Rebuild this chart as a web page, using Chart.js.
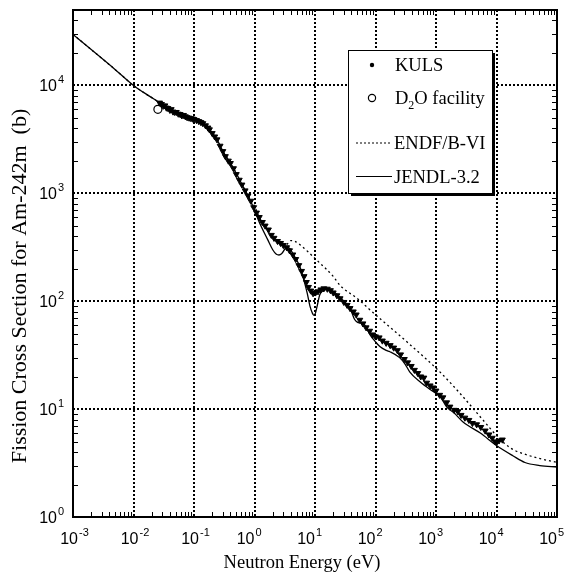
<!DOCTYPE html>
<html><head><meta charset="utf-8">
<script src="https://cdn.jsdelivr.net/npm/chart.js@4.4.0/dist/chart.umd.min.js"></script>
<style>html,body{margin:0;padding:0;background:#fff;}canvas{display:block;}</style>
</head><body>
<canvas id="c" width="573" height="575"></canvas>
<script>
// ---- data (energy in eV, cross section in barns) ----
const kulsE = [0.027,0.029,0.031,0.033,0.035,0.037,0.040,0.042,0.045,0.048,
  0.051,0.055,0.059,0.063,0.067,0.072,0.077,0.083,0.089,0.095,
  0.10,0.11,0.12,0.13,0.14,0.155,0.17,0.18,0.20,0.22,
  0.24,0.27,0.30,0.33,0.37,0.40,0.45,0.50,0.56,0.62,
  0.70,0.78,0.87,0.97,1.08,1.2,1.35,1.5,1.7,1.9,
  2.1,2.4,2.7,3.0,3.4,3.8,4.3,4.8,5.4,6.0,
  6.6,7.2,7.8,8.5,9.3,10.2,11.2,12.5,14,16,
  18,20,23,26,30,34,38,43,48,55,
  62,70,80,90,100,115,130,150,175,200,
  230,260,300,340,390,440,500,560,630,700,
  800,900,1000,1150,1300,1500,1700,2000,2300,2600,
  3000,3500,4000,4700,5500,6500,7500,8500,9500,10000,
  11000,12500];
const kulsXS = [6900,6700,6450,6500,6200,6150,5900,6000,5700,5650,
  5650,5450,5400,5250,5300,5150,5050,5000,4950,4900,
  4850,4750,4650,4550,4450,4250,4050,3900,3600,3350,
  3150,2750,2450,2200,2000,1900,1700,1500,1330,1200,
  1060,950,850,740,660,600,540,500,460,410,
  385,360,345,330,315,295,270,245,215,190,
  170,150,135,125,118,120,123,128,131,130,
  126,120,113,106,98,92,86,80,75,67,
  62,57,53,49,47,46,43,41,39,37,
  35,32,29,27,25,23,21.5,20,19.5,17.5,
  16.5,15.8,14.8,13.5,12.8,11.5,10.5,9.8,9.5,8.8,
  8.3,7.9,7.4,7.2,6.8,6.3,5.8,5.4,5.0,4.9,
  5.1,5.2];
const d2oE = [0.0253];
const d2oXS = [6000];
const jendlE = [0.001,0.002,0.005,0.01,0.018,0.0275,0.04,0.06,0.1,0.14,0.18,0.24,0.3,
  0.4,0.52,0.65,0.85,1.0,1.2,1.66,2.0,2.3,2.54,
  2.8,3.4,3.8,4.4,5.6,6.3,7.4,8.3,9.0,9.6,
  10.2,10.8,12,14,15.8,18,21.5,27,34,40,
  45,50,55,63,72,81,100,118,150,173,
  250,310,370,550,800,1000,1200,1500,2000,2800,
  5400,10000,18600,29500,52000,100000];
const jendlXS = [29700,21500,14000,10000,8000,6900,6000,5400,4850,4450,3900,3150,2450,
  1900,1470,1150,860,700,540,370,300,272,268,
  275,315,310,270,210,170,120,89,78,74,
  78,89,115,126,129,126,120,106,93,80,
  68,64,63,62,56,49,42,38,35,34,
  30,26,22,17.8,15.2,14,12.8,10.5,9.2,7.6,
  6.0,4.6,3.7,3.2,3.0,2.9];
const endfE = [0.001,0.002,0.005,0.01,0.018,0.0275,0.04,0.06,0.1,0.14,0.18,0.24,0.3,0.4,0.52,0.65,0.85,1.0,
  1.2,1.6,2.0,2.5,3.0,3.4,4.0,4.6,5.6,10.7,
  20,26,51,92,330,1170,2800,6000,10000,16600,
  35000,100000];
const endfXS = [29700,21500,14000,10000,8000,6900,6000,5400,4850,4450,3900,3150,2450,1900,1470,1150,880,760,
  600,470,390,345,330,335,365,360,335,240,
  170,140,105,78,42,22,13,7.9,5.7,4.4,
  3.7,3.2];
const xTickExps = [-3,-2,-1,0,1,2,3,4,5];
const yTickExps = [0,1,2,3,4];
const seriesNames = ['KULS','D2O facility','ENDF/B-VI','JENDL-3.2'];
const xTitle = 'Neutron Energy (eV)';
const yTitle = 'Fission Cross Section for Am-242m  (b)';

const pts = (xs, ys) => xs.map((v, i) => ({x: v, y: ys[i]}));

const SERIF = '"Liberation Serif", "Times New Roman", serif';
const SANS = '"Liberation Sans", Arial, sans-serif';

const decorate = {
  id: 'decorate',
  beforeDatasetsDraw(chart) {
    const {ctx, chartArea: a, scales: {x, y}} = chart;
    ctx.save();
    ctx.strokeStyle = '#000';
    ctx.lineWidth = 2;
    ctx.setLineDash([2, 2]);
    xTickExps.forEach(e => {
      const px = Math.round(x.getPixelForValue(Math.pow(10, e)));
      if (px <= a.left + 1 || px >= a.right - 1) return;
      ctx.beginPath(); ctx.moveTo(px, a.top); ctx.lineTo(px, a.bottom); ctx.stroke();
    });
    yTickExps.forEach(e => {
      const py = Math.round(y.getPixelForValue(Math.pow(10, e)));
      if (py <= a.top + 1 || py >= a.bottom - 1) return;
      ctx.beginPath(); ctx.moveTo(a.left, py); ctx.lineTo(a.right, py); ctx.stroke();
    });
    ctx.restore();
  },
  afterDraw(chart) {
    const {ctx, chartArea: a, scales: {x, y}} = chart;
    ctx.save();
    ctx.setLineDash([]);
    ctx.strokeStyle = '#000';
    // minor ticks inward
    ctx.lineWidth = 1;
    const tl = 5;
    for (let e = -3; e < 5; e++) {
      for (let m = 2; m <= 9; m++) {
        const px = Math.round(x.getPixelForValue(m * Math.pow(10, e))) + 0.5;
        ctx.beginPath();
        ctx.moveTo(px, a.bottom); ctx.lineTo(px, a.bottom - tl);
        ctx.moveTo(px, a.top); ctx.lineTo(px, a.top + tl);
        ctx.stroke();
      }
    }
    for (let e = 0; e < 5; e++) {
      for (let m = 2; m <= 9; m++) {
        const v = m * Math.pow(10, e);
        if (v > y.max) continue;
        const py = Math.round(y.getPixelForValue(v)) + 0.5;
        ctx.beginPath();
        ctx.moveTo(a.left, py); ctx.lineTo(a.left + tl, py);
        ctx.moveTo(a.right, py); ctx.lineTo(a.right - tl, py);
        ctx.stroke();
      }
    }
    // frame
    ctx.lineWidth = 2;
    ctx.strokeRect(a.left, a.top, a.right - a.left, a.bottom - a.top);

    // tick labels
    ctx.fillStyle = '#000';
    ctx.textBaseline = 'alphabetic';
    xTickExps.forEach(e => {
      const px = x.getPixelForValue(Math.pow(10, e));
      const r = px + (e < 0 ? 5 : 0);
      ctx.font = '16px ' + SANS;
      ctx.textAlign = 'right';
      ctx.fillText('10', r, 544);
      ctx.font = '11px ' + SANS;
      ctx.textAlign = 'left';
      ctx.fillText(String(e), r + 1, 536);
    });
    yTickExps.forEach(e => {
      const py = y.getPixelForValue(Math.pow(10, e));
      ctx.font = '16px ' + SANS;
      ctx.textAlign = 'right';
      ctx.fillText('10', 57, py + 6);
      ctx.font = '11px ' + SANS;
      ctx.textAlign = 'left';
      ctx.fillText(String(e), 58, py - 2);
    });

    // axis titles
    ctx.font = '18.5px ' + SERIF;
    ctx.textAlign = 'center';
    ctx.fillText(xTitle, 302, 568);
    ctx.save();
    ctx.translate(20, 286);
    ctx.rotate(-Math.PI / 2);
    ctx.textBaseline = 'middle';
    ctx.font = '22px ' + SERIF;
    ctx.fillText(yTitle, 0, 0);
    ctx.restore();

    // legend
    const L = 348, T = 50, W = 144, H = 143;
    ctx.fillStyle = '#000';
    ctx.fillRect(L + 3, T + 3, W, H);
    ctx.fillStyle = '#fff';
    ctx.fillRect(L, T, W, H);
    ctx.lineWidth = 1;
    ctx.strokeStyle = '#000';
    ctx.strokeRect(L + 0.5, T + 0.5, W, H);
    ctx.fillStyle = '#000';
    ctx.beginPath(); ctx.arc(372, 65, 2.2, 0, Math.PI * 2); ctx.fill();
    ctx.beginPath(); ctx.arc(372, 98, 3.6, 0, Math.PI * 2);
    ctx.lineWidth = 1.2; ctx.stroke();
    ctx.lineWidth = 1.2;
    ctx.setLineDash([2, 2]);
    ctx.beginPath(); ctx.moveTo(356, 143); ctx.lineTo(392, 143); ctx.stroke();
    ctx.setLineDash([]);
    ctx.beginPath(); ctx.moveTo(356, 176.5); ctx.lineTo(392, 176.5); ctx.stroke();
    ctx.font = '18.5px ' + SERIF;
    ctx.textAlign = 'left';
    ctx.fillText(seriesNames[0], 395, 71);
    ctx.fillText('D', 395, 104);
    let dx = 395 + ctx.measureText('D').width;
    ctx.font = '12px ' + SERIF;
    ctx.fillText('2', dx, 109);
    dx += ctx.measureText('2').width;
    ctx.font = '18.5px ' + SERIF;
    ctx.fillText('O facility', dx, 104);
    ctx.fillText(seriesNames[2], 394, 149);
    ctx.fillText(seriesNames[3], 394, 183);
    ctx.restore();
  }
};

new Chart(document.getElementById('c'), {
  type: 'scatter',
  data: {
    datasets: [
      { label: seriesNames[0], data: pts(kulsE, kulsXS), showLine: false,
        pointStyle: 'triangle', rotation: 180, pointRadius: 3.4,
        backgroundColor: '#000', borderColor: '#000', borderWidth: 1 },
      { label: seriesNames[1], data: pts(d2oE, d2oXS), showLine: false,
        pointStyle: 'circle', pointRadius: 4, backgroundColor: '#fff',
        borderColor: '#000', borderWidth: 1.2 },
      { label: seriesNames[3], data: pts(jendlE, jendlXS), showLine: true,
        pointRadius: 0, borderColor: '#000', borderWidth: 1.3,
        cubicInterpolationMode: 'monotone' },
      { label: seriesNames[2], data: pts(endfE, endfXS), showLine: true,
        pointRadius: 0, borderColor: '#000', borderWidth: 1.3, borderDash: [2, 3],
        cubicInterpolationMode: 'monotone' }
    ]
  },
  options: {
    responsive: false,
    animation: false,
    devicePixelRatio: 1,
    layout: { padding: { left: 73, right: 16, top: 10, bottom: 58 } },
    plugins: { legend: { display: false }, tooltip: { enabled: false } },
    scales: {
      x: { type: 'logarithmic', min: 1e-3, max: 1e5, display: false },
      y: { type: 'logarithmic', min: 1, max: 5e4, display: false }
    }
  },
  plugins: [decorate]
});
</script>
</body></html>
